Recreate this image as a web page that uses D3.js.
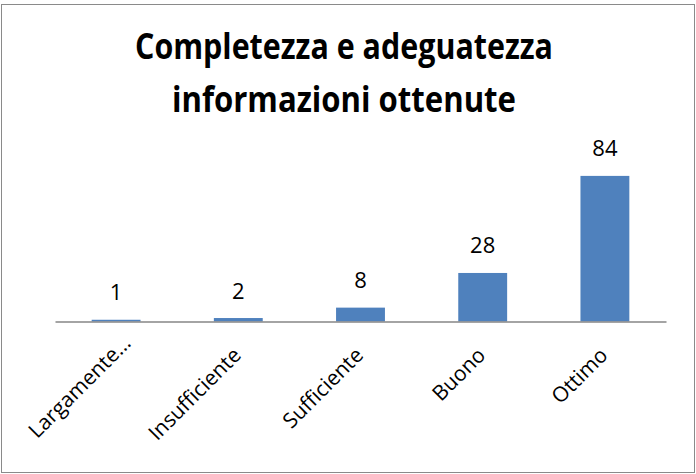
<html>
  <head>
    <meta charset="utf-8">
    <title>Completezza e adeguatezza informazioni ottenute</title>
    <script src="https://d3js.org/d3.v7.min.js"></script>
    <style>
      body { margin: 0; background: #fff; }
      text { font-family: "Open Sans", "Noto Sans", sans-serif; fill: #000; }
    </style>
  </head>
  <body>
    <svg id="chart" width="696" height="474"></svg>

    <script>
      // chart data
      const categories = ["Largamente…", "Insufficiente", "Sufficiente", "Buono", "Ottimo"];
      const values = [1, 2, 8, 28, 84];
      const titleLines = ["Completezza e adeguatezza", "informazioni ottenute"];
      const yMax = 90;

      let svg = d3.select("svg#chart");

      // outer frame
      svg.append("rect")
         .attr("x", 1.5)
         .attr("y", 4.5)
         .attr("width", 693)
         .attr("height", 468)
         .attr("fill", "#fff")
         .attr("stroke", "#8a8a8a")
         .attr("stroke-width", 1);

      // title, squeezed to the width the original uses
      const titleWidths = [418, 344];
      svg.selectAll("text.title").data(titleLines)
         .join("text")
         .attr("class", "title")
         .attr("x", 344)
         .attr("y", (d, i) => 59 + i * 53)
         .attr("text-anchor", "middle")
         .attr("font-size", 36)
         .attr("font-weight", "bold")
         .attr("textLength", (d, i) => titleWidths[i])
         .attr("lengthAdjust", "spacingAndGlyphs")
         .text(d => d);

      const axisY = 321.5;
      const plotTop = 165.5;

      let x = d3.scaleBand()
                .domain(categories)
                .range([55, 666])
                .paddingInner(0.6)
                .paddingOuter(0.3);

      let y = d3.scaleLinear()
                .domain([0, yMax])
                .range([axisY, plotTop]);

      // bars
      svg.selectAll("rect.bar").data(values)
         .join("rect")
         .attr("class", "bar")
         .attr("x", (d, i) => x(categories[i]))
         .attr("width", x.bandwidth())
         .attr("y", d => y(d))
         .attr("height", d => axisY - y(d))
         .attr("fill", "#4f81bd");

      // value labels
      svg.selectAll("text.value").data(values)
         .join("text")
         .attr("class", "value")
         .attr("x", (d, i) => x(categories[i]) + x.bandwidth() / 2)
         .attr("y", d => y(d) - 19.5)
         .attr("text-anchor", "middle")
         .attr("font-size", 22)
         .text(d => d);

      // category axis
      let xAxis = d3.axisBottom(x).tickSize(0).tickSizeOuter(0);
      let gx = svg.append("g")
                  .attr("transform", "translate(0," + axisY + ")")
                  .call(xAxis);

      gx.select(".domain")
        .attr("stroke", "#868686")
        .attr("stroke-width", 1.6);

      // rotated labels; the truncated one sits a little further along
      gx.selectAll("text")
        .attr("font-family", null)
        .attr("font-size", 21)
        .attr("fill", "#000")
        .attr("text-anchor", "end")
        .attr("x", d => d.endsWith("…") ? 17 : 0)
        .attr("y", 0)
        .attr("dy", 0)
        .attr("transform", "translate(4,35) rotate(-45)");
      gx.attr("font-family", null).attr("font-size", null);
    </script>
  </body>
</html>
